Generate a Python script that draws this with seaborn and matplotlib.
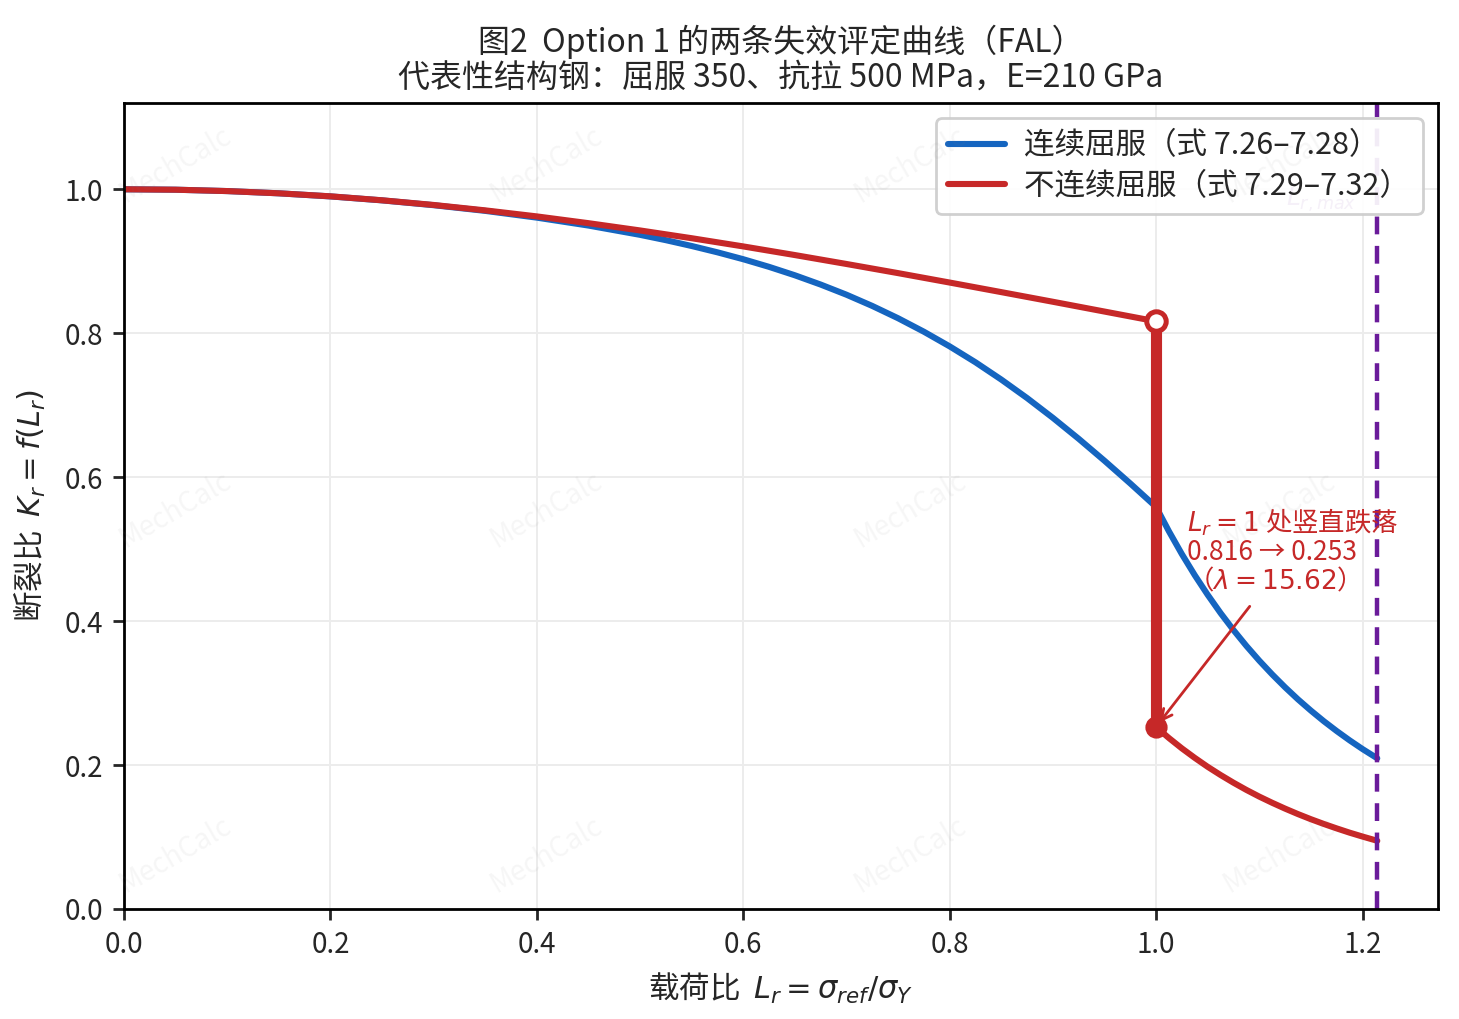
import numpy as np
import pandas as pd
import matplotlib
matplotlib.use('Agg')
import matplotlib.pyplot as plt
import seaborn as sns

sns.set_theme(style='ticks')
plt.rcParams['font.family'] = ['Noto Sans CJK SC', 'DejaVu Sans']
plt.rcParams['axes.unicode_minus'] = False
plt.rcParams['mathtext.fontset'] = 'dejavusans'

# 连续屈服 (式 7.26-7.28) 读图数值
lr_cont = [0.0, 0.05, 0.1, 0.15, 0.2, 0.25, 0.3, 0.35, 0.4, 0.45, 0.5, 0.525, 0.55, 0.575,
           0.6, 0.625, 0.65, 0.675, 0.7, 0.725, 0.75, 0.775, 0.8, 0.825, 0.85, 0.875, 0.9,
           0.925, 0.95, 0.975, 1.0, 1.0125, 1.025, 1.0375, 1.05, 1.0625, 1.075, 1.0875, 1.1,
           1.1125, 1.125, 1.1375, 1.15, 1.1625, 1.175, 1.1875, 1.2, 1.2143]
kr_cont = [1.000, 0.9994, 0.9975, 0.9944, 0.9901, 0.9846, 0.9779, 0.9700, 0.9606, 0.9496,
           0.9367, 0.9293, 0.9212, 0.9124, 0.9028, 0.8922, 0.8805, 0.8676, 0.8535, 0.8379,
           0.8208, 0.8021, 0.7817, 0.7596, 0.7356, 0.7099, 0.6824, 0.6533, 0.6228, 0.5912,
           0.5586, 0.5246, 0.4930, 0.4637, 0.4365, 0.4111, 0.3875, 0.3655, 0.3450, 0.3259,
           0.3080, 0.2912, 0.2756, 0.2609, 0.2472, 0.2343, 0.2222, 0.2093]

# 不连续屈服 (式 7.29-7.32) 读图数值
lr_disc_lo = [0.0, 0.05, 0.1, 0.15, 0.2, 0.25, 0.3, 0.35, 0.4, 0.45, 0.5, 0.55, 0.6, 0.65,
              0.7, 0.75, 0.8, 0.85, 0.9, 0.95, 1.0]
kr_disc_lo = [1.000, 0.9994, 0.9975, 0.9944, 0.9902, 0.9847, 0.9782, 0.9707, 0.9623, 0.9529,
              0.9428, 0.9320, 0.9206, 0.9086, 0.8962, 0.8835, 0.8704, 0.8571, 0.8437, 0.8301,
              0.8165]
lr_disc_hi = [1.0, 1.0125, 1.025, 1.0375, 1.05, 1.0625, 1.075, 1.0875, 1.1, 1.1125, 1.125,
              1.1375, 1.15, 1.1625, 1.175, 1.1875, 1.2, 1.2143]
kr_disc_hi = [0.2528, 0.2374, 0.2231, 0.2099, 0.1975, 0.1861, 0.1754, 0.1654, 0.1561, 0.1475,
              0.1394, 0.1318, 0.1247, 0.1181, 0.1119, 0.1060, 0.1006, 0.0947]

lr_max = 1.2143
kr_top, kr_bottom = 0.816, 0.253
lam = 15.62

blue = '#1565C0'
red = '#C62828'
purple = '#6A1B9A'

df_cont = pd.DataFrame({'Lr': lr_cont, 'Kr': kr_cont})
df_disc = pd.DataFrame({'Lr': lr_disc_lo + lr_disc_hi, 'Kr': kr_disc_lo + kr_disc_hi})

fig = plt.figure(figsize=(7.295, 5.095), dpi=200)
ax = fig.add_axes([0.085, 0.108, 0.9005, 0.791])

sns.lineplot(data=df_cont, x='Lr', y='Kr', ax=ax, color=blue, lw=2.2, sort=False,
             estimator=None, label='连续屈服（式 7.26–7.28）')
sns.lineplot(data=df_disc, x='Lr', y='Kr', ax=ax, color=red, lw=2.2, sort=False,
             estimator=None, label='不连续屈服（式 7.29–7.32）')
# Lr=1 处的竖直跌落
ax.plot([lr_disc_lo[-1], lr_disc_hi[0]], [kr_disc_lo[-1], kr_disc_hi[0]], color=red, lw=4,
        solid_capstyle='butt', zorder=3)
ax.plot([lr_disc_lo[-1]], [kr_disc_lo[-1]], 'o', ms=7, mfc='white', mec=red, mew=1.8, zorder=5)
ax.plot([lr_disc_hi[0]], [kr_disc_hi[0]], 'o', ms=7, color=red, zorder=5)

ax.axvline(lr_max, color=purple, ls='--', lw=1.6, dashes=(4, 2.6))
ax.text(lr_max - 0.02, 0.985, r'$L_{r,max}$', color=purple, fontsize=9, ha='right',
        va='center', alpha=0.8)

ax.annotate(f'$L_r=1$ 处竖直跌落\n{kr_top:.3f} → {kr_bottom:.3f}\n（$\\lambda={lam:.2f}$）',
            xy=(1.0, kr_bottom), xytext=(1.03, 0.435), color=red, fontsize=9.5,
            ha='left', va='bottom', linespacing=1.05,
            arrowprops=dict(arrowstyle='->', color=red, lw=1.0))

ax.set_xlim(0, 1.273)
ax.set_ylim(0, 1.12)
ax.set_xticks([0, 0.2, 0.4, 0.6, 0.8, 1.0, 1.2])
ax.set_yticks([0, 0.2, 0.4, 0.6, 0.8, 1.0])
ax.xaxis.set_major_formatter(matplotlib.ticker.FormatStrFormatter('%.1f'))
ax.yaxis.set_major_formatter(matplotlib.ticker.FormatStrFormatter('%.1f'))
ax.tick_params(labelsize=10, direction='out', length=4, width=1)
ax.grid(True, color='#ececec', lw=0.7)
for s in ax.spines.values():
    s.set_visible(True)
    s.set_color('black')
    s.set_linewidth(1.0)

ax.set_xlabel(r'载荷比  $L_r=\sigma_{ref}/\sigma_Y$', fontsize=11, labelpad=4)
ax.set_ylabel(r'断裂比  $K_r=f(L_r)$', fontsize=11, labelpad=6)
ax.set_title('图2  Option 1 的两条失效评定曲线（FAL）\n代表性结构钢：屈服 350、抗拉 500 MPa，E=210 GPa',
             fontsize=11.5, linespacing=1.1, pad=6)

leg = ax.legend(loc='upper right', fontsize=11, frameon=True, framealpha=0.92,
                edgecolor='#cccccc', handlelength=1.85, handletextpad=0.65,
                labelspacing=0.3, borderpad=0.4)

# 水印
for fx in [0.12, 0.374, 0.624, 0.877]:
    for fy in [0.838, 0.5, 0.161]:
        fig.text(fx, fy, 'MechCalc', rotation=30, fontsize=10, color='gray', alpha=0.07,
                 ha='center', va='center')

fig.savefig('out.png', dpi=200)
